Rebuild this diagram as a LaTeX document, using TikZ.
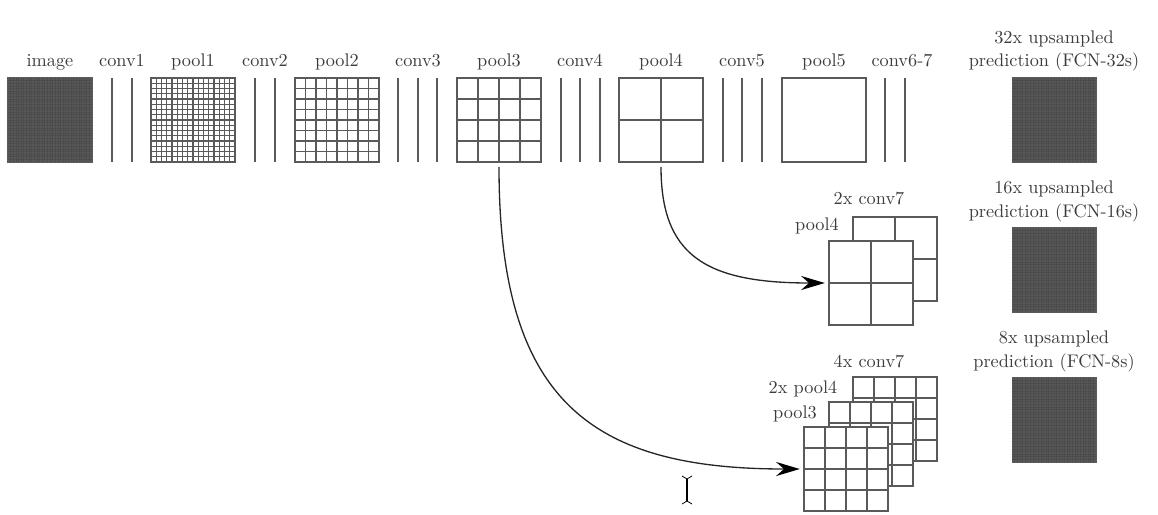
\documentclass[tikz,border=0pt]{standalone}
\usetikzlibrary{arrows.meta,calc}
\definecolor{gl}{HTML}{5A5A5A}
\definecolor{tx}{HTML}{3C3C3C}
\definecolor{dense}{HTML}{585858}
\definecolor{denseline}{HTML}{4C4C4C}
\tikzset{
  x=0.02cm,y=-0.02cm,
  lbl/.style={anchor=base,inner sep=0pt,text=tx,font=\fontsize{10.4}{12}\selectfont},
  gridbox/.style={draw=gl,fill=white,line width=0.6pt,minimum size=1.68cm,inner sep=0pt,outer sep=0pt},
  gridline/.style={draw=gl,line width=0.6pt},
  densebox/.style={draw=gl,fill=dense,line width=0.6pt,minimum size=1.68cm,inner sep=0pt,outer sep=0pt},
  convline/.style={draw=gl,line width=0.6pt},
  flow/.style={draw=black!85,line width=0.75pt,shorten <=2.8pt,shorten >=2.4pt,-{Stealth[length=13.5pt,width=8pt,inset=4.5pt,black]}},
}
% name, left x, top y, cells
\newcommand{\gridnode}[4]{%
  \node[gridbox] (#1) at ({#2+42},{#3+42}) {};
  \ifnum#4>1
  \pgfmathtruncatemacro{\lastcell}{#4-1}
  \foreach \k in {1,...,\lastcell}{
    \draw[gridline] ($(#1.north west)!{\k/#4}!(#1.north east)$) -- ($(#1.south west)!{\k/#4}!(#1.south east)$);
    \draw[gridline] ($(#1.north west)!{\k/#4}!(#1.south west)$) -- ($(#1.north east)!{\k/#4}!(#1.south east)$);
  }
  \fi
}
% name, left x, top y: the finest grid, seen as a dark square with a faint weave
\newcommand{\densenode}[3]{%
  \node[densebox] (#1) at ({#2+42},{#3+42}) {};
  \foreach \k in {1,...,31}{
    \draw[draw=denseline,line width=0.4pt] ($(#1.north west)!{\k/32}!(#1.north east)$) -- ($(#1.south west)!{\k/32}!(#1.south east)$);
    \draw[draw=denseline,line width=0.4pt] ($(#1.north west)!{\k/32}!(#1.south west)$) -- ($(#1.north east)!{\k/32}!(#1.south east)$);
  }
}
\begin{document}
\begin{tikzpicture}
\useasboundingbox (0,0) rectangle (1158,514);
% top row labels
\foreach \n/\t/\px in {limage/image/50,lc1/conv1/122,lp1/pool1/193,lc2/conv2/265,lp2/pool2/337,lc3/conv3/418,lp3/pool3/499,lc4/conv4/580,lp4/pool4/661,lc5/conv5/742,lp5/pool5/824,lc6/conv6-7/902}
  \node[lbl] (\n) at (\px,66) {\t};
% top row grids
\densenode{image}{8}{78}
\gridnode{pool1}{151}{78}{16}
\gridnode{pool2}{295}{78}{8}
\gridnode{pool3}{457}{78}{4}
\gridnode{pool4}{619}{78}{2}
\gridnode{pool5}{782}{78}{1}
% conv lines
\foreach \px in {112,132,255,275,398,418,437,561,580,600,723,742,762,885,905}
  \draw[convline] (\px,78) -- (\px,162);
% predictions
\densenode{pred32}{1012}{78}
\densenode{pred16}{1012}{228}
\densenode{pred8}{1012}{378}
\node[lbl] (t32a) at (1054,43) {32x upsampled};
\node[lbl] (t32b) at (1054,66.5) {prediction (FCN-32s)};
\node[lbl] (t16a) at (1054,193.5) {16x upsampled};
\node[lbl] (t16b) at (1054,217) {prediction (FCN-16s)};
\node[lbl] (t8a) at (1054,343.5) {8x upsampled};
\node[lbl] (t8b) at (1054,367) {prediction (FCN-8s)};
% FCN-16s stack
\gridnode{backA}{853}{217}{2}
\gridnode{frontA}{829}{241}{2}
\node[lbl] (l2x) at (869,204) {2x conv7};
\node[lbl] (lp4b) at (817,230) {pool4};
% FCN-8s stack
\gridnode{backB}{853}{377}{4}
\gridnode{midB}{829}{402}{4}
\gridnode{frontB}{804}{427}{4}
\node[lbl] (l4x) at (869,367) {4x conv7};
\node[lbl] (l2p) at (803,393) {2x pool4};
\node[lbl] (lp3b) at (795,418) {pool3};
% connectors
\draw[flow] (pool4.south) .. controls (661,255) and (705,283) .. (frontA.west);
\draw[flow] (pool3.south) .. controls (499,400) and (590,469) .. (frontB.west);
% text cursor
\coordinate (cur) at (687,490);
\draw[black,line width=0.7pt] ($(cur)+(0,-11)$) -- ($(cur)+(0,11)$);
\draw[black,line width=0.45pt] ($(cur)+(-5,-14)$) -- ($(cur)+(0,-11)$) -- ($(cur)+(5,-14)$);
\draw[black,line width=0.45pt] ($(cur)+(-5,14)$) -- ($(cur)+(0,11)$) -- ($(cur)+(5,14)$);
\end{tikzpicture}
\end{document}
